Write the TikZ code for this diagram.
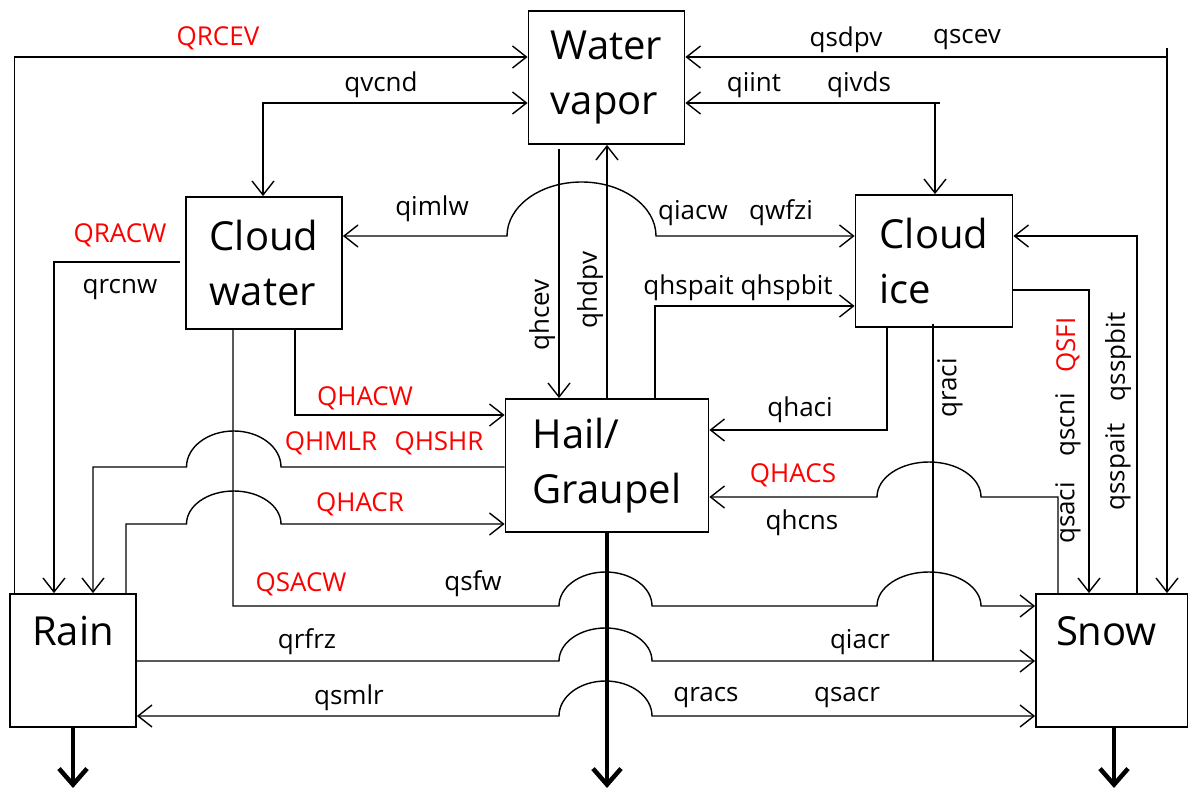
\documentclass[tikz,border=0pt]{standalone}
\usepackage{fontspec}
\setmainfont{Open Sans}
\usetikzlibrary{arrows.meta}
\begin{document}
\begin{tikzpicture}[x=1pt,y=-1pt,
  box/.style={draw, line width=1.8pt, inner sep=0pt, font=\fontsize{40}{55}\selectfont},
  ln/.style={line width=1.4pt},
  arr/.style={ln, -{Straight Barb[length=14pt,width=22pt]}},
  darr/.style={ln, {Straight Barb[length=14pt,width=22pt]}-{Straight Barb[length=14pt,width=22pt]}},
  lbl/.style={font=\fontsize{26}{30}\selectfont, inner sep=0pt},
  rlbl/.style={lbl, text=red},
  sink/.style={line width=4.5pt, -{Straight Barb[length=16pt,width=28pt]}}]
\useasboundingbox (0,0) rectangle (1188,791);
% boxes
\node[box, align=left, minimum width=156pt, minimum height=133pt] (wv) at (606.5,77.5) {Water\\vapor};
\node[box, align=left, minimum width=156pt, minimum height=132pt] (cw) at (264,263) {Cloud\\water};
\node[box, align=left, minimum width=157pt, minimum height=132pt] (ci) at (934,261) {Cloud\\ice};
\node[box, align=left, minimum width=203pt, minimum height=133pt] (hg) at (607,465.5) {Hail/\\Graupel};
\node[box, minimum width=126pt, minimum height=133pt, text height=30pt, text depth=61pt] (rain) at (73,660.5) {Rain};
\node[box, minimum width=152pt, minimum height=133pt, text height=30pt, text depth=61pt] (snow) at (1112,660.5) {Snow\kern11pt};
\coordinate (rainout) at (73,788);
\coordinate (hgout) at (607,788);
\coordinate (snowout) at (1114,788);
% connectors
\draw[arr] (rain.north -| 14.6,0) -- (14.6,57) -- (wv.west |- 0,57);
\draw[darr] (cw.north -| 263,0) -- (263,103) -- (wv.west |- 0,103);
\draw[darr] (ci.north -| 935,0) -- (935,103) -- (wv.east |- 0,103);
\draw[ln] (935,103) -- (940,103);
\draw[darr] (snow.north -| 1167,0) -- (1167,57) -- (wv.east |- 0,57);
\draw[ln] (1167,57) -- (1167,48);
\draw[arr, shorten <=4pt] (wv.south -| 559,0) -- (hg.north -| 559,0);
\draw[arr] (hg.north -| 607,0) -- (wv.south -| 607,0);
\draw[darr] (cw.east |- 0,236) -- (507,236) arc[start angle=180,end angle=0,x radius=74.5pt,y radius=54pt] -- (ci.west |- 0,236);
\draw[arr, shorten <=5pt] (cw.west |- 0,262) -- (54,262) -- (rain.north -| 54,0);
\draw[arr] (cw.south -| 295,0) -- (295,415) -- (hg.west |- 0,415);
\draw[arr] (cw.south -| 233,0) -- (233,606) -- (559,606) arc[start angle=180,end angle=0,x radius=46.5pt,y radius=34pt] -- (877,606) arc[start angle=180,end angle=0,x radius=52pt,y radius=34pt] -- (snow.west |- 0,606);
\draw[arr] (hg.west |- 0,467) -- (281,467) arc[start angle=0,end angle=180,x radius=47.25pt,y radius=36pt] -- (93,467) -- (rain.north -| 93,0);
\draw[arr] (rain.north -| 126,0) -- (126,524) -- (186.5,524) arc[start angle=180,end angle=0,x radius=47.25pt,y radius=33pt] -- (hg.west |- 0,524);
\draw[arr] (hg.north -| 655,0) -- (655,306) -- (ci.west |- 0,306);
\draw[arr] (ci.south -| 887,0) -- (887,430) -- (hg.east |- 0,430);
\draw[arr] (snow.north -| 1058,0) -- (1058,497) -- (981,497) arc[start angle=0,end angle=180,x radius=52pt,y radius=35pt] -- (hg.east |- 0,497);
\draw[arr] (ci.east |- 0,290) -- (1089,290) -- (snow.north -| 1089,0);
\draw[arr] (snow.north -| 1137,0) -- (1137,236) -- (ci.east |- 0,236);
\draw[ln] (ci.south -| 933,0) ++(0,-4) -- (933,661);
\draw[arr] (rain.east |- 0,661) -- (559,661) arc[start angle=180,end angle=0,x radius=46.5pt,y radius=33pt] -- (snow.west |- 0,661);
\draw[darr] (rain.east |- 0,716) -- (559,716) arc[start angle=180,end angle=0,x radius=46.5pt,y radius=35pt] -- (snow.west |- 0,716);
\draw[sink] (rain.south) -- (rainout);
\draw[sink] (hg.south) -- (hgout);
\draw[sink] (snow.south -| 1114,0) -- (snowout);
% labels
\node[rlbl] (tQRCEV) at (218,38) {QRCEV};
\node[lbl] (tqvcnd) at (381,85) {qvcnd};
\node[lbl] (tqiint) at (754,85) {qiint};
\node[lbl] (tqivds) at (859,85) {qivds};
\node[lbl] (tqsdpv) at (846,40) {qsdpv};
\node[lbl] (tqscev) at (967,40) {qscev};
\node[lbl, rotate=90] (tqhcev) at (542,315) {qhcev};
\node[lbl, rotate=90] (tqhdpv) at (590,290) {qhdpv};
\node[lbl] (tqimlw) at (432,209) {qimlw};
\node[lbl] (tqiacw) at (693,213) {qiacw};
\node[lbl] (tqwfzi) at (781,213) {qwfzi};
\node[rlbl] (tQRACW) at (120,235) {QRACW};
\node[lbl] (tqrcnw) at (120,290) {qrcnw};
\node[rlbl] (tQHACW) at (365,398) {QHACW};
\node[rlbl] (tQHMLR) at (331,443) {QHMLR};
\node[rlbl] (tQHSHR) at (439,443) {QHSHR};
\node[rlbl] (tQHACR) at (360,504) {QHACR};
\node[rlbl] (tQSACW) at (301,584) {QSACW};
\node[lbl] (tqsfw) at (473,584) {qsfw};
\node[lbl] (tqrfrz) at (307,642) {qrfrz};
\node[lbl] (tqiacr) at (860,642) {qiacr};
\node[lbl] (tqsmlr) at (349,698) {qsmlr};
\node[lbl] (tqracs) at (706,698) {qracs};
\node[lbl] (tqsacr) at (847,698) {qsacr};
\node[lbl] (tqhsp) at (738,288) {qhspait qhspbit};
\node[lbl] (tqhaci) at (800,410) {qhaci};
\node[rlbl] (tQHACS) at (793,475) {QHACS};
\node[lbl] (tqhcns) at (802,523) {qhcns};
\node[lbl, rotate=90] (tqraci) at (950,388) {qraci};
\node[lbl, rotate=90] (tqsaci) at (1068,513) {qsaci};
\node[lbl, rotate=90] (tqscni) at (1068,425) {qscni};
\node[rlbl, rotate=90] (tQSFI) at (1068,345) {QSFI};
\node[lbl, rotate=90] (tqsspbit) at (1118,357) {qsspbit};
\node[lbl, rotate=90] (tqsspait) at (1118,467) {qsspait};
\end{tikzpicture}
\end{document}
